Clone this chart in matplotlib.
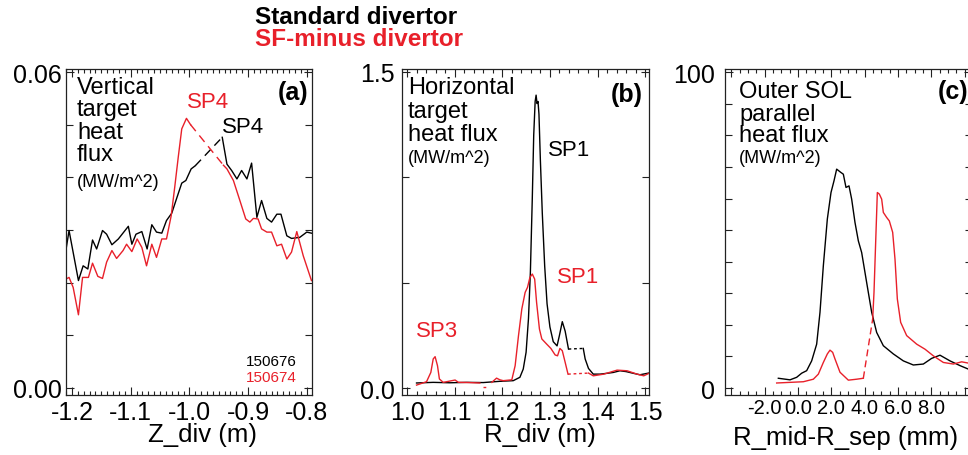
import matplotlib
matplotlib.use("Agg")
import matplotlib.pyplot as plt
from matplotlib.ticker import MultipleLocator, FixedLocator

plt.rcParams['font.family'] = ['Liberation Sans', 'DejaVu Sans']

RED = '#e8202a'

# ---- panel (a): vertical target heat flux, split where the data has a gap
za_black1 = [-1.210, -1.205, -1.189, -1.181, -1.173, -1.165, -1.158, -1.148, -1.141, -1.132,
             -1.121, -1.104, -1.098, -1.091, -1.081, -1.072, -1.064, -1.056, -1.047, -1.039,
             -1.030, -1.022, -1.013, -1.006, -0.997, -0.990]
qa_black1 = [0.0264, 0.0299, 0.0204, 0.0232, 0.0226, 0.0281, 0.0264, 0.0299, 0.0292, 0.0272,
             0.0283, 0.0307, 0.0273, 0.0292, 0.0297, 0.0264, 0.0310, 0.0296, 0.0294, 0.0318,
             0.0332, 0.0359, 0.0389, 0.0394, 0.0416, 0.0422]
za_black2 = [-0.944, -0.936, -0.928, -0.919, -0.911, -0.902, -0.894, -0.885, -0.877, -0.868,
             -0.860, -0.851, -0.844, -0.834, -0.826, -0.812, -0.800, -0.792]
qa_black2 = [0.0476, 0.0425, 0.0413, 0.0397, 0.0413, 0.0397, 0.0427, 0.0324, 0.0356, 0.0322,
             0.0315, 0.0330, 0.0330, 0.0289, 0.0284, 0.0286, 0.0296, 0.0294]

za_red1 = [-1.210, -1.205, -1.198, -1.189, -1.182, -1.172, -1.165, -1.156, -1.148, -1.141,
           -1.132, -1.124, -1.113, -1.107, -1.098, -1.089, -1.081, -1.073, -1.064, -1.056,
           -1.047, -1.039, -1.031, -1.025, -1.019, -1.013, -1.005, -0.998]
qa_red1 = [0.0207, 0.0210, 0.0191, 0.0139, 0.0210, 0.0210, 0.0237, 0.0212, 0.0208, 0.0239,
           0.0261, 0.0246, 0.0261, 0.0273, 0.0259, 0.0283, 0.0267, 0.0232, 0.0273, 0.0248,
           0.0283, 0.0283, 0.0327, 0.0381, 0.0438, 0.0492, 0.0512, 0.0500]
za_red2 = [-0.942, -0.936, -0.925, -0.914, -0.904, -0.897, -0.891, -0.883, -0.877, -0.868,
           -0.860, -0.851, -0.843, -0.834, -0.826, -0.817, -0.806, -0.792]
qa_red2 = [0.0423, 0.0416, 0.0394, 0.0356, 0.0321, 0.0315, 0.0322, 0.0321, 0.0302, 0.0296,
           0.0296, 0.0270, 0.0273, 0.0245, 0.0258, 0.0297, 0.0251, 0.0204]

# ---- panel (b): horizontal target heat flux
rb_black1 = [1.020, 1.055, 1.090, 1.125, 1.160, 1.195, 1.223, 1.237, 1.244, 1.250,
             1.255, 1.259, 1.263, 1.266, 1.269, 1.271, 1.273, 1.275, 1.277, 1.280,
             1.284, 1.289, 1.294, 1.300, 1.307, 1.315, 1.320, 1.326, 1.332, 1.339]
qb_black1 = [0.024, 0.027, 0.025, 0.027, 0.026, 0.032, 0.035, 0.051, 0.090, 0.170,
             0.330, 0.550, 0.900, 1.200, 1.360, 1.390, 1.350, 1.360, 1.300, 1.080,
             0.830, 0.580, 0.400, 0.290, 0.220, 0.200, 0.250, 0.315, 0.270, 0.185]
rb_black2 = [1.370, 1.374, 1.381, 1.391, 1.405, 1.420, 1.433, 1.447, 1.460, 1.475, 1.489, 1.507]
qb_black2 = [0.188, 0.138, 0.093, 0.066, 0.066, 0.070, 0.074, 0.082, 0.078, 0.070, 0.063, 0.071]

rb_red1 = [1.020, 1.041, 1.050, 1.055, 1.059, 1.064, 1.068, 1.076, 1.101, 1.108, 1.130, 1.153]
qb_red1 = [0.014, 0.030, 0.074, 0.138, 0.149, 0.106, 0.043, 0.027, 0.038, 0.027, 0.026, 0.024]
rb_red_gap1 = [1.159, 1.171]
qb_red_gap1 = [0.003, 0.003]
rb_red2 = [1.178, 1.188, 1.195, 1.202, 1.220, 1.227, 1.234, 1.241, 1.248, 1.253,
           1.258, 1.263, 1.268, 1.272, 1.278, 1.283, 1.293, 1.302, 1.311, 1.316,
           1.321, 1.326, 1.332, 1.338]
qb_red2 = [0.027, 0.047, 0.039, 0.035, 0.039, 0.106, 0.248, 0.375, 0.454, 0.478,
           0.525, 0.541, 0.517, 0.407, 0.280, 0.233, 0.209, 0.188, 0.157, 0.153,
           0.188, 0.177, 0.122, 0.066]
rb_red3 = [1.381, 1.391, 1.413, 1.441, 1.462, 1.483, 1.497, 1.509]
qb_red3 = [0.071, 0.058, 0.066, 0.085, 0.082, 0.066, 0.058, 0.071]

# ---- panel (c): outer SOL parallel heat flux vs R_mid-R_sep (mm)
rc_black = [-1.18, -0.48, -0.08, 0.22, 0.52, 0.82, 1.12, 1.32, 1.52, 1.76,
            1.98, 2.16, 2.32, 2.56, 2.72, 2.88, 3.06, 3.22, 3.42, 3.62,
            3.82, 4.12, 4.42, 4.72, 5.12, 5.72, 6.32, 6.92, 7.52, 8.02,
            8.52, 9.12, 9.72, 10.22]
qc_black = [3.1, 2.6, 3.4, 4.7, 5.5, 8.6, 13.9, 24.0, 38.7, 53.5,
            61.9, 65.6, 69.3, 68.3, 67.7, 63.5, 64.0, 59.8, 52.4, 46.6,
            42.9, 33.4, 24.0, 17.6, 13.4, 10.8, 8.6, 7.3, 7.6, 9.4,
            10.4, 8.6, 7.1, 6.0]
rc_red1 = [-1.28, -0.48, 0.32, 0.92, 1.22, 1.52, 1.76, 1.92, 2.08, 2.22, 2.52, 3.02, 3.52, 3.92]
qc_red1 = [1.6, 1.8, 2.0, 2.8, 4.4, 8.1, 10.8, 12.0, 11.3, 9.2, 5.0, 2.5, 2.8, 3.1]
rc_red2 = [4.48, 4.56, 4.68, 4.76, 4.88, 5.02, 5.12, 5.32, 5.48, 5.68,
           5.82, 5.96, 6.16, 6.52, 7.12, 7.62, 8.12, 8.72, 9.32, 9.82, 10.22]
qc_red2 = [21.8, 30.3, 49.3, 61.9, 61.4, 59.8, 55.6, 54.0, 52.9, 49.3,
           40.8, 28.2, 20.8, 16.6, 13.9, 12.3, 10.2, 8.1, 7.6, 8.3, 7.9]

W, H = 968, 456
fig = plt.figure(figsize=(9.68, 4.56), dpi=100)


def make_ax(left_px, width_px):
    return fig.add_axes([left_px / W, 1 - 396 / H, width_px / W, 326 / H])


def style(ax, xmaj, xmin, ymaj, ymin, ysize=18, ypad=3, xsize=18, xpad=3.5):
    ax.xaxis.set_major_locator(MultipleLocator(xmaj))
    ax.xaxis.set_minor_locator(MultipleLocator(xmin))
    ax.yaxis.set_major_locator(FixedLocator(ymaj))
    ax.yaxis.set_minor_locator(MultipleLocator(ymin))
    ax.tick_params(which='both', direction='in', top=True, right=True, width=0.8, color='#222222')
    ax.tick_params(which='major', length=6)
    ax.tick_params(which='minor', length=3)
    ax.tick_params(axis='y', which='minor', length=5)
    ax.tick_params(axis='x', labelsize=xsize, pad=xpad)
    ax.tick_params(axis='y', labelsize=ysize, pad=ypad)
    for s in ax.spines.values():
        s.set_linewidth(0.9)
        s.set_color('#222222')


def block(ax, lines, x, ys, size):
    for t, y in zip(lines, ys):
        ax.text(x, y, t, transform=ax.transAxes, fontsize=size, ha='left', va='center')


# (a)
ax1 = make_ax(66, 246)
ax1.plot(za_black1, qa_black1, color='black', lw=1.0)
ax1.plot(za_black2, qa_black2, color='black', lw=1.0)
ax1.plot([za_black1[-1], za_black2[0]], [qa_black1[-1], qa_black2[0]], color='black', lw=1.0, ls=(0, (6, 4)))
ax1.plot(za_red1, qa_red1, color=RED, lw=1.0)
ax1.plot(za_red2, qa_red2, color=RED, lw=1.0)
ax1.plot([za_red1[-1], za_red2[0]], [qa_red1[-1], qa_red2[0]], color=RED, lw=1.0, ls=(0, (6, 4)))
ax1.set_xlim(-1.2102, -0.7911)
ax1.set_ylim(-0.00133, 0.06057)
style(ax1, 0.1, 0.01, [0.0, 0.06], 0.01)
ax1.set_yticklabels(['0.00', '0.06'])
ax1.set_xticks([-1.2, -1.1, -1.0, -0.9, -0.8])
ax1.set_xticklabels(['-1.2', '-1.1', '-1.0', '-0.9', '-0.8'])
ax1.set_xlabel('Z_div (m)', fontsize=18.5)
ax1.xaxis.set_label_coords(0.553, -0.12)
ax1.xaxis.label.set_va('center')
block(ax1, ['Vertical', 'target', 'heat', 'flux'], 0.045, [0.945, 0.877, 0.807, 0.739], 17)
block(ax1, ['(MW/m^2)'], 0.045, [0.656], 13)
ax1.text(0.984, 0.929, '(a)', transform=ax1.transAxes, fontsize=18, fontweight='bold', ha='right', va='center')
ax1.text(0.579, 0.899, 'SP4', transform=ax1.transAxes, fontsize=16, color=RED, ha='center', va='center')
ax1.text(0.720, 0.825, 'SP4', transform=ax1.transAxes, fontsize=16, color='black', ha='center', va='center')
ax1.text(0.939, 0.104, '150676', transform=ax1.transAxes, fontsize=11, color='black', ha='right', va='center')
ax1.text(0.939, 0.055, '150674', transform=ax1.transAxes, fontsize=11, color=RED, ha='right', va='center')

# (b)
ax2 = make_ax(402, 247)
ax2.plot(rb_black1, qb_black1, color='black', lw=1.0)
ax2.plot(rb_black2, qb_black2, color='black', lw=1.0)
ax2.plot([rb_black1[-1], rb_black2[0]], [qb_black1[-1], qb_black2[0]], color='black', lw=1.0, ls=(0, (2, 2)))
ax2.plot(rb_red1, qb_red1, color=RED, lw=1.0)
ax2.plot(rb_red_gap1, qb_red_gap1, color=RED, lw=1.0, ls=(0, (2, 2)))
ax2.plot(rb_red2, qb_red2, color=RED, lw=1.0)
ax2.plot([rb_red2[-1], rb_red3[0]], [qb_red2[-1], qb_red3[0]], color=RED, lw=1.0, ls=(0, (2, 2)))
ax2.plot(rb_red3, qb_red3, color=RED, lw=1.0)
ax2.set_xlim(0.9895, 1.508)
ax2.set_ylim(-0.033, 1.514)
style(ax2, 0.1, 0.02, [0.0, 1.5], 0.5, ypad=5)
ax2.set_yticklabels(['0.0', '1.5'])
ax2.set_xticks([1.0, 1.1, 1.2, 1.3, 1.4, 1.5])
ax2.set_xticklabels(['1.0', '1.1', '1.2', '1.3', '1.4', '1.5'])
ax2.set_xlabel('R_div (m)', fontsize=18.5)
ax2.xaxis.set_label_coords(0.56, -0.12)
ax2.xaxis.label.set_va('center')
block(ax2, ['Horizontal', 'target', 'heat flux'], 0.024, [0.945, 0.871, 0.801], 17)
block(ax2, ['(MW/m^2)'], 0.024, [0.730], 13)
ax2.text(0.976, 0.923, '(b)', transform=ax2.transAxes, fontsize=18, fontweight='bold', ha='right', va='center')
ax2.text(0.678, 0.752, 'SP1', transform=ax2.transAxes, fontsize=16, color='black', ha='center', va='center')
ax2.text(0.711, 0.365, 'SP1', transform=ax2.transAxes, fontsize=16, color=RED, ha='center', va='center')
ax2.text(0.142, 0.199, 'SP3', transform=ax2.transAxes, fontsize=16, color=RED, ha='center', va='center')

# (c)
ax3 = make_ax(725, 247)
ax3.plot(rc_black, qc_black, color='black', lw=1.0)
ax3.plot(rc_red1, qc_red1, color=RED, lw=1.0)
ax3.plot([rc_red1[-1], rc_red2[0]], [qc_red1[-1], qc_red2[0]], color=RED, lw=1.0, ls=(0, (5, 3)))
ax3.plot(rc_red2, qc_red2, color=RED, lw=1.0)
ax3.set_xlim(-4.38, 10.44)
ax3.set_ylim(-2.2, 101)
style(ax3, 2.0, 0.5, [0, 100], 10, ypad=7, xsize=14.5, xpad=2)
ax3.set_yticklabels(['0', '100'])
ax3.set_xticks([-4, -2, 0, 2, 4, 6, 8, 10])
ax3.set_xticklabels(['', '-2.0', '0.0', '2.0', '4.0', '6.0', '8.0', ''])
ax3.set_xlabel('R_mid-R_sep (mm)', fontsize=18.5)
ax3.xaxis.set_label_coords(0.49, -0.13)
ax3.xaxis.label.set_va('center')
block(ax3, ['Outer SOL', 'parallel', 'heat flux'], 0.057, [0.933, 0.862, 0.798], 17)
block(ax3, ['(MW/m^2)'], 0.057, [0.727], 13)
ax3.text(0.984, 0.933, '(c)', transform=ax3.transAxes, fontsize=18, fontweight='bold', ha='right', va='center')

# header
fig.text(255 / W, 1 - 17 / H, 'Standard divertor', fontsize=17.5, fontweight='bold', color='black', ha='left', va='center')
fig.text(255 / W, 1 - 40 / H, 'SF-minus divertor', fontsize=17.5, fontweight='bold', color=RED, ha='left', va='center')

fig.savefig('out.png', dpi=100)
